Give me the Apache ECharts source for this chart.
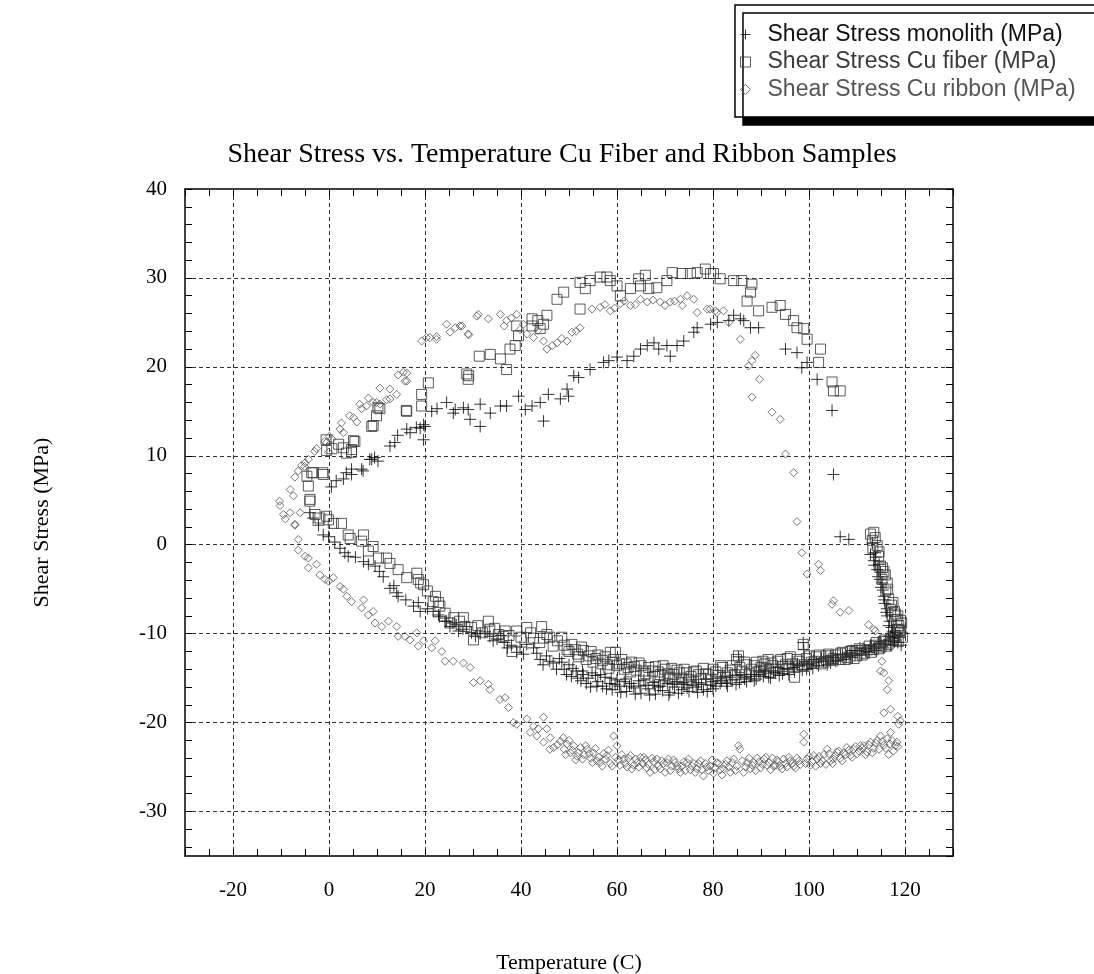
<!DOCTYPE html>
<html><head><meta charset="utf-8">
<script src="https://cdn.jsdelivr.net/npm/echarts@6/dist/echarts.min.js"></script>
<style>html,body{margin:0;padding:0;background:#fff}#c{width:1094px;height:974px}</style>
</head><body><div id="c"></div>
<script>
const xTickLabels = [-20, 0, 20, 40, 60, 80, 100, 120];
const yTickLabels = [-30, -20, -10, 0, 10, 20, 30, 40];
const seriesNames = ['Shear Stress monolith (MPa)', 'Shear Stress Cu fiber (MPa)', 'Shear Stress Cu ribbon (MPa)'];

const monolith = [
[0.5,6.5],[1.5,7.2],[3,7.4],[3.6,8.1],[4.7,7.9],[4.7,8.5],[6.8,8.5],[7.1,8.3],[8.5,9.6],[8.9,9.6],[9.5,9.8],[10.2,9.4],[12.7,11.1],[13.7,11.5],[14.3,12.3],[16.2,13.0],[16.9,12.6],[18.2,13.2],[19,13.1],[19.7,13.5],[19.7,11.8],[20,13.3],[21.4,15.0],[22.5,15.3],[24.5,16.0],[25.9,14.8],[26.3,15.2],[28,15.4],[29,15.2],[29.4,14.1],[31.5,13.3],[31.5,15.8],[33.6,14.8],[35.7,15.6],[37,15.6],[39.5,16.7],[40.9,15.2],[42.3,15.6],[44.7,13.9],[44,16.0],[45.7,16.9],[48.2,16.4],[49.6,17.5],[49.9,16.7],[51,19.0],[52,18.8],[54.4,19.7],[57.2,20.5],[58.3,20.7],[60,21.1],[62.1,20.7],[63.5,21.2],[64.9,22.0],[66.3,22.4],[67.7,22.7],[68.7,22.0],[70.4,22.4],[71.1,21.2],[72.5,22.4],[73.9,22.9],[76,23.9],[76.7,24.4],[79.5,24.8],[80.9,25.0],[83.3,25.2],[84.3,25.8],[85.7,25.4],[86.4,25.2],[87.8,24.4],[89.5,24.4],[95.1,22.0],[97.5,21.6],[98.5,19.9],[99.6,20.5],[101.7,18.6],[104.8,15.1],[105.1,7.9],[106.5,0.9],[108.3,0.6],
[112.8,-1.1],[113.2,0.2],[113.5,-1.8],[114.2,-2.8],[114.9,-3.1],[115.2,-4.3],[115.6,-5.8],[115.8,-6.6],[116.3,-8.0],[116.6,-9.1],[117,-10.3],[116.2,-7.2],[115.4,-5.1],[114.6,-2.2],[117.4,-9.8],[113.8,-0.9],
[113.9,-1.4],[114.4,-3.6],[115,-4.8],[115.7,-6.2],[116.1,-7.6],[116.8,-8.6],[117.2,-9.3],[117.8,-10.4],[113.6,-2.3],[114.8,-3.9],
[-4,3.6],[-3.3,3.0],[-2.2,2.2],[-1.2,1.1],[-0.1,0.9],[1.2,0.3],[2.3,-0.4],[3.3,-0.9],[4,-1.3],[5.5,-1.4],[7.2,-1.9],[8.2,-2.2],[9.6,-2.4],[10.5,-3.0],[11.3,-3.6],[12.7,-4.9],[13.5,-4.6],[14.1,-5.4],[14.4,-5.8],[16,-6.2],[17.6,-6.9],[18.6,-6.5],[19,-7.5],[20.5,-7.2],[21.7,-7.5],[22.8,-7.9],[23,-8.1],[24.2,-8.6],[24.5,-8.6],[25.2,-9.2],[25.8,-8.8],[26.5,-9.0],[27,-9.7],[27.9,-9.5],[28.6,-9.2],[29.7,-9.9],[30.5,-10.3],[31.5,-10.0],[32.5,-9.8],[33.5,-10.3],[34.2,-10.8],[35,-10.6],[35.8,-10.2],[36.5,-11.0],[37.2,-11.6],[38,-11.3],[39.1,-12.1],[39.8,-11.5],[40.5,-12.3],[41.2,-11.2],[42.6,-11.6],[43.3,-12.2],[44,-12.9],[44.6,-13.5],[45.3,-12.5],[46,-13.1],[46.7,-13.3],[47.4,-14.0],[48,-12.8],
[49,-14.0],[50,-13.5],[50.5,-14.8],[51.5,-14.2],[52.5,-15.3],[53,-14.6],[54,-15.0],[54.5,-16.0],[55.5,-14.7],[56,-15.4],[57,-15.9],[57.5,-14.9],[58.5,-15.6],[59,-16.3],[60,-15.2],[60.5,-15.9],[61.5,-15.4],[62,-16.5],[63,-15.6],[63.5,-16.1],[64.5,-15.3],[65,-16.7],[66,-15.8],[66.5,-16.2],[67.5,-15.5],[68,-16.8],[69,-15.9],[69.5,-16.4],[70.5,-15.6],[71,-16.6],[72,-16.0],[72.5,-15.4],[73.5,-16.3],[74,-15.7],[75,-16.5],[75.5,-15.2],[76.5,-16.0],[77,-15.5],[78,-16.3],[78.5,-15.1],[79.5,-15.8],[80,-16.2],[81,-15.0],[81.5,-15.6],[82.5,-14.8],[83,-15.9],[84,-15.2],[85,-14.7],[85.3,-12.6],[85.5,-15.5],[86.5,-14.9],[87,-15.4],[88,-14.6],[89,-15.1],[89.5,-14.3],[90.5,-14.8],[91,-14.2],[92,-15.0],[93,-14.4],[93.5,-13.8],[94.5,-14.5],[95.5,-14.0],[96.5,-13.5],[97,-14.3],[98,-13.6],[98.8,-11.0],[98.9,-11.8],[99,-13.2],[99.5,-14.0],[100.5,-13.4],[101,-12.9],[102,-13.6],[103,-13.1],[103.5,-12.6],[104.5,-13.3],[105,-12.7],[106,-13.0],[107,-12.4],[107.5,-12.9],[108.5,-12.2],[109,-12.7],[110,-11.9],[111,-12.4],[111.5,-11.7],[112.5,-12.1],[113,-11.4],[114,-11.9],[114.5,-11.1],[115.5,-11.6],[116,-10.8],[117,-11.3],[117.5,-10.5],[118.5,-11.0],[118,-9.9],
[48.5,-13.2],[49.5,-14.6],[50.8,-13.9],[51.8,-15.0],[52.8,-14.2],[53.6,-15.6],[54.8,-14.4],[55.8,-15.9],[56.6,-14.6],[57.8,-16.2],[58.8,-15.0],[59.6,-15.7],[60.8,-16.6],[61.8,-15.1],[62.6,-15.9],[63.8,-16.8],[64.8,-15.9],[65.6,-15.2],[66.8,-16.9],[67.8,-15.8],[68.6,-16.0],[69.8,-15.3],[70.8,-16.9],[71.6,-15.7],[72.8,-16.7],[73.8,-15.5],[74.6,-16.1],[75.8,-15.8],[76.8,-16.6],[77.6,-15.7],[78.8,-16.5],[79.8,-15.4],[80.6,-15.9],[81.8,-15.3],[82.8,-15.6],[83.6,-14.9],[84.8,-15.7],[85.8,-14.6],[86.6,-15.1],[87.8,-14.8],[88.6,-15.3],[89.8,-14.6],[90.8,-14.1],[91.6,-14.9],[92.6,-14.3],[93.8,-14.7],[94.8,-13.9],[95.8,-14.6],[96.8,-13.8],[97.6,-13.4],[98.6,-14.1],[99.8,-13.5],[100.8,-13.9],[101.6,-13.2],[102.6,-12.8],[103.8,-13.5],[104.8,-12.5],[105.6,-13.1],[106.6,-12.3],[107.8,-12.6],[108.8,-11.9],[109.6,-12.4],[110.6,-11.6],[111.8,-12.0],[112.8,-11.3],[113.6,-11.7],[114.8,-10.9],[115.8,-11.2],[116.6,-10.3],[117.8,-10.9],[118.8,-10.2],[119.2,-11.3]
];

const fiber = [
[-4.6,7.7],[-4.3,6.6],[-3.95,5.1],[-3.6,8.1],[-3.3,8.1],[-1.3,8.1],[-1.2,7.9],[-0.6,11.8],[-0.5,10.6],[0.6,10.8],[2,11.3],[3,10.9],[3.6,10.3],[4.7,10.4],[4.7,10.7],[5.1,11.7],[5.4,11.6],[8.9,13.3],[9.2,13.4],[9.9,14.5],[10.2,15.4],[10.6,15.3],[16.1,15.1],[16.2,15.0],[19.3,15.6],[19.3,16.9],[20.7,18.2],[28.7,19.2],[29,18.6],[29.1,19.0],[31.3,21.2],[33.6,21.4],[35.7,20.9],[37,19.7],[37.7,22.0],[38.8,22.4],[39.5,23.5],[39.1,24.6],[42.3,25.4],[42.3,24.6],[43.5,25.2],[44,24.3],[44.7,24.8],[45.4,25.8],[47.5,27.6],[48.9,28.4],[52.3,26.5],[52.3,29.5],[53.4,28.8],[54.4,29.7],[56.5,30.1],[57.9,30.1],[58.6,29.7],[60,29.1],[60.7,28.0],[62.8,28.8],[64.5,29.9],[65.9,30.3],[64.9,29.1],[66.6,28.8],[68.3,28.9],[70.4,29.7],[71.5,30.6],[73.6,30.5],[75.3,30.5],[76.7,30.6],[78.4,31.0],[79.5,30.5],[80.1,30.5],[81.5,29.9],[84.3,29.7],[86,29.7],[88.1,29.3],[87.8,28.4],[87.1,27.4],[89.5,26.3],[92.3,26.7],[94,26.9],[95.1,25.9],[96.8,25.2],[97.5,24.4],[98.9,24.3],[99.6,23.1],[102.4,22.0],[102,20.5],[104.8,18.3],[105.1,17.3],[106.5,17.3],
[112.8,1.2],[113.5,1.4],[113.2,0.5],[114.2,-0.1],[114.5,-1.3],[114.9,-2.4],[115.2,-3.9],[115.6,-3.0],[116.3,-4.3],[116.6,-6.1],[116,-5.2],[117,-7.3],[117.5,-6.5],[118.3,-8.4],[118.7,-9.1],[119,-9.9],[118,-7.8],
[113.8,0.8],[114.6,-0.8],[115.3,-2.6],[115.9,-3.4],[116.4,-5.0],[117.2,-6.8],[117.8,-7.5],[118.5,-8.0],[119.1,-8.5],[118.8,-9.6],[113.3,-0.4],
[-4,4.9],[-2.9,3.4],[-1.9,3.0],[-0.5,3.2],[-0.1,2.8],[0.9,2.4],[2.6,2.4],[4,1.1],[4.4,0.7],[7.2,1.1],[6.8,0.4],[9.2,-0.2],[8.2,-0.7],[10.3,-1.5],[12,-1.5],[12.7,-2.1],[14.4,-2.8],[16.2,-3.7],[18.3,-3.2],[18.6,-3.9],[19.1,-4.3],[19.7,-4.5],[20.5,-5.2],[21.7,-6.4],[22.2,-5.8],[22.8,-6.5],[23.1,-6.9],[24.2,-7.7],[25.2,-8.8],[26,-8.2],[27.2,-8.6],[28,-8.2],[28.3,-9.2],[29.7,-9.3],[30.1,-10.7],[31,-9.1],[32,-9.9],[33.2,-8.6],[33.5,-9.5],[34.5,-9.4],[35.3,-10.1],[36.3,-10.3],[36.7,-9.7],[37.5,-10.2],[38.1,-12.0],[39.1,-9.7],[40,-10.4],[41.2,-9.3],[42,-9.9],[42.6,-10.5],[43.9,-11.0],[44.3,-9.2],[44.7,-10.5],[45.4,-10.1],[46,-10.4],[46.7,-11.4],[47.6,-10.8],
[49,-11.3],[50,-12.0],[51.3,-11.8],[52,-12.6],[53,-11.9],[54.2,-12.5],[55,-13.2],[56,-12.4],[57,-13.0],[58,-13.5],[58.6,-12.1],[59.3,-12.9],[59.7,-12.1],[60.5,-13.4],[61.5,-14.0],[62.3,-13.8],[63,-13.2],[64,-14.1],[65,-13.6],[66,-14.5],[67.4,-14.2],[68,-13.7],[69,-14.6],[70,-14.0],[71,-14.9],[71.8,-14.6],[72.5,-14.1],[73.5,-15.0],[74.5,-14.4],[75.4,-14.8],[76.5,-14.2],[77.5,-15.1],[78.5,-14.5],[79.1,-14.6],[80,-14.0],[81,-14.7],[82,-13.8],[83,-14.4],[84,-13.6],[84.9,-12.9],[85.3,-12.5],[86,-14.2],[87,-13.5],[88,-14.0],[89,-13.2],[90,-13.8],[90.8,-13.4],[91.5,-12.9],[92.5,-13.6],[93.5,-13.1],[94.5,-13.7],[95.5,-12.8],[96.5,-13.4],[97,-14.9],[97.5,-12.9],[98.5,-13.5],[98.8,-11.2],[99.5,-12.8],[100.5,-13.2],[101.5,-12.6],[102.5,-13.4],[103.5,-12.5],[104.5,-13.0],[105.5,-12.4],[106.1,-12.9],[107,-12.1],[108,-12.7],[109,-11.9],[109.8,-12.5],[110.5,-11.7],[111.5,-12.2],[112.5,-11.4],[113.4,-11.8],[114,-11.0],[115,-11.5],[115.8,-10.7],[116.5,-11.2],[117.1,-10.6],[118,-10.2],[118.5,-9.5],[119.3,-8.8],[119.5,-10.4],
[48.5,-10.4],[49.6,-11.8],[50.6,-11.2],[51.8,-12.3],[52.6,-11.5],[53.6,-12.9],[54.6,-12.0],[55.6,-12.8],[56.6,-13.4],[57.5,-12.6],[58.3,-13.9],[59.9,-13.6],[61,-12.9],[61.9,-13.4],[62.8,-14.3],[63.6,-13.7],[64.6,-13.3],[65.6,-14.2],[66.6,-13.8],[67.8,-14.8],[68.6,-14.3],[69.6,-13.6],[70.6,-14.5],[71.4,-13.9],[72.1,-15.1],[73,-14.4],[74,-14.0],[75,-15.2],[75.9,-14.3],[77,-14.6],[78,-13.9],[79.6,-15.2],[80.6,-14.3],[81.6,-13.6],[82.6,-14.9],[83.6,-14.1],[84.5,-14.6],[85.6,-13.8],[86.6,-13.2],[87.6,-14.5],[88.6,-13.6],[89.6,-14.2],[90.4,-13.1],[91.2,-13.9],[92.1,-13.3],[93.1,-14.0],[94.1,-12.9],[95.1,-13.5],[96.1,-12.6],[97.9,-13.1],[99.1,-13.7],[100.1,-12.5],[101.1,-13.1],[102.1,-12.4],[103.1,-13.2],[104.1,-12.3],[105.1,-12.8],[106.6,-12.2],[107.6,-12.9],[108.6,-12.0],[109.4,-12.8],[110.2,-11.9],[111.1,-12.4],[112.1,-11.8],[113,-12.1],[113.8,-11.3],[114.6,-11.7],[115.4,-10.9],[116.2,-11.4],[117.6,-10.7],[118.6,-10.9],[119.1,-9.8]
];

const ribbon = [
[-10.3,4.9],[-10.2,4.4],[-9.5,3.4],[-9.1,2.9],[-8.1,3.6],[-7.1,2.3],[-7.4,5.5],[-8.1,6.2],[-7.1,7.6],[-6.4,8.3],[-5.7,8.9],[-5.1,8.8],[-5,9.2],[-4.3,9.6],[-3,10.5],[-2.6,10.8],[-0.9,11.6],[-0.5,11.5],[-0.1,10.4],[0.1,12.2],[0.6,11.9],[2.3,13.0],[2.6,13.7],[3,12.6],[4.3,14.5],[5.1,14.3],[5.8,13.8],[6.4,15.8],[6.8,15.3],[7.8,15.6],[8.2,16.5],[9.2,16.0],[9.9,16.0],[10.6,17.6],[10.6,15.8],[12,16.3],[12.7,17.5],[12.7,16.4],[14.1,16.9],[14.4,19.1],[15.5,19.4],[15.8,18.4],[16.2,19.3],[16.2,18.4],
[19.3,22.9],[20.3,23.3],[21,23.3],[22.4,23.4],[22.4,23.1],[24.5,24.8],[25.2,23.9],[26.3,24.4],[27.3,24.6],[27.7,24.6],[29,23.7],[29.1,23.6],[30.8,25.7],[31.1,25.9],[33.2,25.4],[35.7,25.9],[36.5,24.6],[37,25.2],[38,25.5],[39.1,25.9],[39.8,24.2],[40.5,24.8],[41.2,23.7],[42.6,23.3],[43.5,24.1],[44.7,22.9],[45.4,22.0],[46.5,22.4],[47.5,22.7],[48.5,23.2],[49.6,22.9],[50.6,23.9],[51.5,24.0],[52.3,24.4],[54.8,26.5],[56.5,26.7],[57.5,27.0],[58.6,26.3],[59.5,26.6],[60.7,27.1],[61.5,27.4],[62.8,26.9],[63.8,27.0],[64.9,27.6],[66.3,27.3],[67.5,27.5],[69,27.3],[70,26.9],[71.1,27.3],[72,27.4],[73.2,27.6],[73.6,26.9],[74.6,28.0],[76,27.6],[76.7,26.1],[78.8,26.5],[79.4,26.5],[80.5,26.3],[80.8,26.1],[82.2,26.3],[83.3,25.0],[85.7,23.1],[87.4,20.1],[88.1,20.7],[88.8,21.3],[89.7,18.6],[88.1,16.6],[92.3,14.9],[94,14.1],[95.1,10.2],[96.8,8.1],[97.5,2.6],[98.5,-0.9],[99.6,-3.3],[102,-2.2],[102.4,-2.9],[104.8,-6.7],[105.1,-6.3],[106.5,-7.6],[108.3,-7.4],[112.4,-9.0],[113.5,-9.5],[113.8,-9.7],[114.9,-11.0],[115.2,-13.1],[114.9,-14.2],[115.6,-14.4],[116.6,-15.3],[116.3,-16.3],[115.6,-18.9],[117,-18.5],[118.5,-19.3],[119,-19.8],[118.7,-20.2],
[-6,3.6],[-7.1,2.2],[-6.4,0.6],[-6.4,-0.6],[-5,-1.3],[-4.3,-1.5],[-4.3,-2.6],[-2.6,-2.2],[-1.9,-3.4],[-0.8,-3.9],[-0.1,-4.1],[0.9,-3.7],[2.3,-4.7],[3,-5.0],[3.7,-5.8],[4.7,-6.4],[7.2,-6.2],[6.8,-7.1],[8.2,-7.9],[9.2,-7.5],[9.6,-8.8],[11,-9.2],[12.4,-8.6],[14.1,-9.2],[14.4,-10.3],[15.8,-10.3],[16.9,-10.7],[18.3,-9.9],[18.6,-11.4],[19.7,-10.8],[22.1,-10.8],[21.4,-11.6],[23.5,-12.0],[24.2,-13.1],[25.9,-13.1],[28,-13.3],[29.4,-13.8],[30.1,-15.5],[31.5,-15.3],[33.2,-15.7],[33.5,-16.3],[35.6,-17.4],[36.7,-17.2],[37.4,-18.3],[38.4,-20.0],[39.1,-20.2],[41.2,-19.6],[42.6,-20.4],[41.9,-21.1],[43.6,-20.7],[44.7,-19.4],[43.3,-21.5],[44.7,-22.2],[45.4,-20.7],[46,-23.0],[46.1,-21.7],[46.8,-22.8],
[48.2,-22.1],[49,-23.0],[49.6,-22.4],[50.3,-23.4],[51,-22.6],[51.7,-23.8],[52.4,-22.8],[53.1,-23.6],[53.8,-23.0],[54.5,-24.0],[55.1,-23.4],[55.8,-24.3],[56.5,-24.5],[57.2,-23.5],[57.9,-23.7],[58.6,-24.6],[59.3,-21.5],[60,-22.6],[60.3,-24.2],[61,-23.6],[61.4,-24.1],[62.1,-25.0],[62.8,-23.7],[63.5,-24.8],[64.2,-24.5],[64.9,-23.9],[65.6,-23.9],[66.2,-25.1],[66.9,-25.6],[67.6,-24.4],[68.3,-24.1],[69,-25.2],[69.7,-24.6],[70.4,-24.5],[71.1,-25.4],[71.8,-24.2],[72.5,-24.9],[73.2,-25.6],[73.9,-24.4],[74.6,-24.5],[75.3,-25.3],[76,-24.6],[76.7,-25.2],[77.4,-24.3],[78,-26.0],[78.7,-25.0],[79.4,-24.9],[80.1,-25.7],[80.8,-24.5],[81.5,-25.3],[82.2,-25.2],[82.9,-24.3],[83.6,-25.6],[84.3,-24.1],[85,-24.9],[85.3,-22.6],[85.6,-23.0],[86.4,-25.6],[87.1,-24.5],[87.8,-25.2],[88.5,-24.5],[89.2,-24.0],[89.9,-25.1],[90.6,-24.1],[91.3,-24.8],[92,-25.3],[92.6,-24.9],[93.3,-24.2],[94,-24.9],[94.7,-24.1],[95.4,-25.0],[96.1,-24.3],[96.8,-24.9],[97.5,-24.0],[98.2,-24.7],[98.9,-21.3],[98.9,-22.2],[99.6,-24.1],[100.3,-24.8],[101,-23.7],[101.7,-24.1],[102.4,-24.6],[103.1,-23.6],[103.8,-23.0],[104.5,-24.3],[105.1,-24.1],[105.8,-23.3],[106.5,-24.0],[107.2,-23.4],[107.9,-22.8],[108.6,-23.7],[109.3,-23.0],[110,-23.5],[110.7,-22.6],[111.4,-22.6],[112.1,-23.3],[112.8,-22.2],[113.5,-22.9],[114.2,-22.0],[114.9,-21.5],[115.6,-22.5],[116.3,-21.8],[116.6,-23.6],[117,-21.1],[117.6,-23.2],[118.3,-22.2],[118.5,-22.7],
[47.6,-22.5],[48.8,-21.7],[49.3,-23.6],[50,-22.0],[50.7,-23.1],[51.4,-24.2],[52,-23.4],[52.8,-24.1],[53.5,-22.6],[54.2,-23.5],[54.9,-24.5],[55.5,-22.9],[56.2,-23.9],[56.9,-24.9],[57.6,-24.1],[58.2,-23.1],[59,-24.9],[59.7,-23.9],[60.6,-24.8],[61.7,-24.6],[62.4,-24.0],[63.1,-25.2],[63.9,-24.1],[64.6,-25.0],[65.3,-24.6],[65.9,-24.2],[66.6,-24.7],[67.3,-24.0],[67.9,-25.3],[68.6,-24.9],[69.3,-24.3],[70,-25.6],[70.7,-24.1],[71.4,-24.9],[72.1,-24.5],[72.8,-25.2],[73.5,-24.9],[74.2,-25.4],[74.9,-24.1],[75.6,-24.9],[76.3,-25.6],[77,-24.6],[77.7,-25.3],[78.4,-24.6],[79.1,-25.4],[79.8,-24.2],[80.5,-25.1],[81.2,-24.6],[81.9,-25.9],[82.6,-24.7],[83.3,-25.0],[84,-24.5],[84.7,-25.4],[86.1,-24.3],[86.8,-25.0],[87.5,-24.0],[88.2,-24.8],[88.9,-25.4],[89.6,-24.4],[90.3,-24.7],[91,-23.9],[91.7,-24.5],[92.4,-24.0],[93.1,-24.8],[93.7,-24.4],[94.4,-25.2],[95.1,-24.6],[95.8,-23.9],[96.5,-24.6],[97.2,-25.1],[97.9,-24.3],[99.3,-24.6],[100,-23.8],[100.7,-24.4],[101.4,-24.9],[102.1,-23.8],[102.8,-24.3],[103.5,-24.7],[104.2,-23.5],[104.9,-24.6],[105.5,-23.7],[106.2,-23.2],[106.9,-24.3],[107.6,-23.6],[108.3,-23.1],[109,-23.9],[109.7,-22.7],[110.4,-23.2],[111.1,-22.9],[111.8,-23.6],[112.5,-22.5],[113.2,-23.4],[113.9,-22.3],[114.6,-23.0],[115.3,-22.1],[116,-22.9],[116.9,-22.4],[117.3,-22.0],[118,-22.6]
];

const PLUS = 'path://M0,5L10,5M5,0L5,10';
const serif = 'Liberation Serif';
const sans = 'Liberation Sans';
const gridDash = {color: '#333', width: 1, type: [4, 3]};

function tickAxis(pos, min, max, extra) {
  return Object.assign({
    type: 'value', position: pos, min: min, max: max,
    axisLine: {show: true, onZero: false, lineStyle: {color: '#000', width: 1.5}},
    axisTick: {show: true, inside: true, length: 7, lineStyle: {color: '#000', width: 1}},
    axisLabel: {show: false},
    splitLine: {show: false}
  }, extra);
}

const chart = echarts.init(document.getElementById('c'), null, {renderer: 'canvas'});
chart.setOption({
  animation: false,
  backgroundColor: '#fff',
  title: {
    text: 'Shear Stress vs. Temperature Cu Fiber and Ribbon Samples',
    left: 557, top: 136, textAlign: 'center',
    textStyle: {fontFamily: serif, fontSize: 28, fontWeight: 'normal', color: '#000'}
  },
  legend: {
    orient: 'vertical', left: 735, top: 5,
    padding: [18, 40, 16, 5],
    itemWidth: 10, itemHeight: 10, itemGap: 4.5,
    backgroundColor: '#fff', borderColor: '#000', borderWidth: 1.5,
    shadowColor: '#000', shadowBlur: 0, shadowOffsetX: 8, shadowOffsetY: 8,
    selectedMode: false,
    textStyle: {fontFamily: sans, fontSize: 23, padding: [0, 0, 0, 12]},
    data: [
      {name: seriesNames[0], icon: PLUS, itemStyle: {color: 'transparent', borderColor: '#000', borderWidth: 1}, textStyle: {color: '#111'}},
      {name: seriesNames[1], icon: 'rect', itemStyle: {color: 'transparent', borderColor: '#333', borderWidth: 1}, textStyle: {color: '#3a3a3a'}},
      {name: seriesNames[2], icon: 'diamond', itemStyle: {color: 'transparent', borderColor: '#555', borderWidth: 1}, textStyle: {color: '#555'}}
    ]
  },
  grid: {left: 185, right: 141, top: 189, bottom: 118, containLabel: false, outerBoundsMode: 'none'},
  xAxis: [
    tickAxis('bottom', -30, 130, {
      interval: 5,
      name: 'Temperature (C)', nameLocation: 'middle', nameGap: 96,
      nameTextStyle: {fontFamily: serif, fontSize: 22, color: '#000'},
      axisLabel: {show: true, margin: 24, fontFamily: serif, fontSize: 21, color: '#000',
        formatter: v => xTickLabels.includes(v) ? String(v) : ''}
    }),
    {type: 'value', position: 'bottom', min: -30, max: 130, splitNumber: 8,
      axisLine: {show: false, onZero: false}, axisTick: {show: false}, axisLabel: {show: false},
      splitLine: {show: true, showMinLine: false, showMaxLine: false, lineStyle: gridDash}},
    tickAxis('top', -30, 130, {interval: 5})
  ],
  yAxis: [
    tickAxis('left', -35, 40, {
      splitNumber: 38,
      name: 'Shear Stress (MPa)', nameLocation: 'middle', nameGap: 132,
      nameTextStyle: {fontFamily: serif, fontSize: 22, color: '#000'},
      axisLabel: {show: true, margin: 18, fontFamily: serif, fontSize: 21, color: '#000', showMinLabel: false,
        formatter: v => yTickLabels.includes(v) ? String(v) : ''}
    }),
    {type: 'value', position: 'left', min: -35, max: 40, splitNumber: 8,
      axisLine: {show: false, onZero: false}, axisTick: {show: false}, axisLabel: {show: false},
      splitLine: {show: true, showMinLine: false, showMaxLine: false, lineStyle: gridDash}},
    tickAxis('right', -35, 40, {splitNumber: 38})
  ],
  series: [
    {name: seriesNames[0], type: 'scatter', data: monolith, symbol: PLUS, symbolSize: 12,
      itemStyle: {color: 'transparent', borderColor: '#000', borderWidth: 1}, emphasis: {disabled: true}, z: 3},
    {name: seriesNames[1], type: 'scatter', data: fiber, symbol: 'rect', symbolSize: 10,
      itemStyle: {color: 'transparent', borderColor: '#333', borderWidth: 1}, emphasis: {disabled: true}, z: 3},
    {name: seriesNames[2], type: 'scatter', data: ribbon, symbol: 'diamond', symbolSize: 8,
      itemStyle: {color: 'transparent', borderColor: '#555', borderWidth: 1}, emphasis: {disabled: true}, z: 3}
  ]
});
</script>
</body></html>
